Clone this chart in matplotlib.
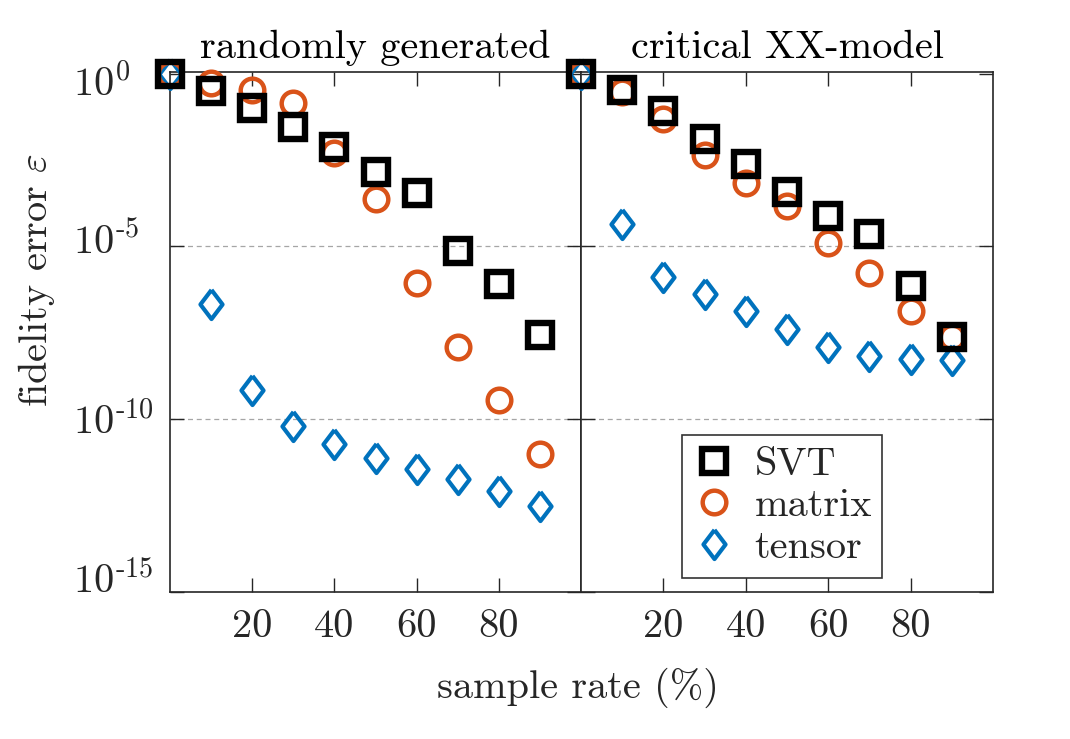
import matplotlib
matplotlib.use("Agg")
import matplotlib.pyplot as plt
import matplotlib.transforms as mtransforms
import numpy as np

plt.rcParams['font.family'] = ['cmr10', 'DejaVu Serif']
plt.rcParams['mathtext.fontset'] = 'cm'
plt.rcParams['axes.formatter.use_mathtext'] = True

sample_rate = [0, 10, 20, 30, 40, 50, 60, 70, 80, 90]

# log10 of fidelity error, randomly generated
rand_svt = [0.0, -0.51, -0.99, -1.54, -2.12, -2.85, -3.44, -5.13, -6.08, -7.56]
rand_matrix = [0.0, -0.27, -0.46, -0.85, -2.30, -3.63, -6.06, -7.90, -9.44, -11.01]
rand_tensor = [0.0, -6.66, -9.15, -10.19, -10.72, -11.11, -11.45, -11.74, -12.08, -12.51]

# log10 of fidelity error, critical XX-model
xx_svt = [0.0, -0.46, -1.09, -1.88, -2.61, -3.41, -4.11, -4.63, -6.13, -7.61]
xx_matrix = [0.0, -0.52, -1.30, -2.35, -3.17, -3.84, -4.90, -5.77, -6.88, -7.62]
xx_tensor = [0.0, -4.34, -5.89, -6.37, -6.88, -7.38, -7.90, -8.17, -8.26, -8.28]

titles = ["randomly generated", "critical XX-model"]
xticks = [20, 40, 60, 80]
yticks = [1e0, 1e-5, 1e-10, 1e-15]
ytick_labels = [r"$10^{0}$", r"$10^{\text{-}5}$", r"$10^{\text{-}10}$", r"$10^{\text{-}15}$"]
grid_levels = [1e-5, 1e-10]

blue = "#0072BD"
orange = "#D95319"
axcol = "#262626"

diamond = [(0, 1), (0.76, 0), (0, -1), (-0.76, 0), (0, 1)]

fig = plt.figure(figsize=(10.70, 7.39), dpi=100)
ax1 = fig.add_axes([170/1070, 147/739, 411/1070, 520/739])
ax2 = fig.add_axes([581/1070, 147/739, 412/1070, 520/739])

fs = 29
data = [(rand_svt, rand_matrix, rand_tensor), (xx_svt, xx_matrix, xx_tensor)]
handles = None
for i, (ax, (svt, mat, ten)) in enumerate(zip([ax1, ax2], data)):
    ax.set_yscale('log')
    for g in grid_levels:
        ax.axhline(g, linestyle=(0, (4, 3)), color='#a6a6a6', linewidth=0.9, zorder=1)
    ht, = ax.plot(sample_rate, 10.0**np.array(ten), linestyle='none', marker=diamond,
                  ms=21, mec=blue, mfc='none', mew=3.0, clip_on=False, zorder=3, label='tensor')
    hm, = ax.plot(sample_rate, 10.0**np.array(mat), linestyle='none', marker='o',
                  ms=17, mec=orange, mfc='none', mew=3.2, clip_on=False, zorder=4, label='matrix')
    hs, = ax.plot(sample_rate, 10.0**np.array(svt), linestyle='none', marker='s',
                  ms=17, mec='black', mfc='none', mew=4.6, clip_on=False, zorder=5, label='SVT')
    handles = [hs, hm, ht]
    ax.set_xlim(0, 100)
    ax.set_ylim(1e-15, 10**0.05)
    ax.set_xticks(xticks)
    ax.set_yticks(yticks)
    ax.yaxis.set_minor_locator(matplotlib.ticker.NullLocator())
    ax.tick_params(direction='in', length=10, width=1.0, top=True, right=True,
                   colors=axcol, labelsize=fs, pad=12)
    ax.tick_params(axis='y', pad=69.6)
    ax.set_xticklabels([str(t) for t in xticks])
    for s in ax.spines.values():
        s.set_color(axcol)
        s.set_linewidth(1.2)
    ax.set_title(titles[i], fontsize=fs, color='black', pad=10)
    if i == 0:
        ax.set_yticklabels(ytick_labels)
    else:
        ax.set_yticklabels([])

# MATLAB-style left-aligned exponent labels; baseline offsets (pixels downward)
label_drop_px = [22, 7, 14, 1]
for lab, d in zip(ax1.get_yticklabels(), label_drop_px):
    lab.set_horizontalalignment('left')
    lab.set_verticalalignment('baseline')
    lab.set_transform(lab.get_transform() + mtransforms.ScaledTranslation(0, -d/100, fig.dpi_scale_trans))

leg = ax2.legend(handles=handles, loc='lower left', bbox_to_anchor=((682-581)/412, (739-578-147)/520, 200/412, 143/520),
                 mode='expand', fontsize=fs, frameon=True, fancybox=False, edgecolor='black',
                 handlelength=1.0, handletextpad=0.5, borderpad=0.3, labelspacing=0.13, borderaxespad=0)
leg.get_frame().set_linewidth(1.2)
for t in leg.get_texts():
    t.set_color(axcol)

fig.text(578/1070, 1 - 688/739, "sample rate (%)", ha='center', va='center', fontsize=fs, color=axcol)
fig.text(37/1070, 1 - 280/739, r"fidelity error $\varepsilon$", ha='center', va='center',
         rotation=90, fontsize=fs, color=axcol)

fig.savefig("out.png", dpi=100)
